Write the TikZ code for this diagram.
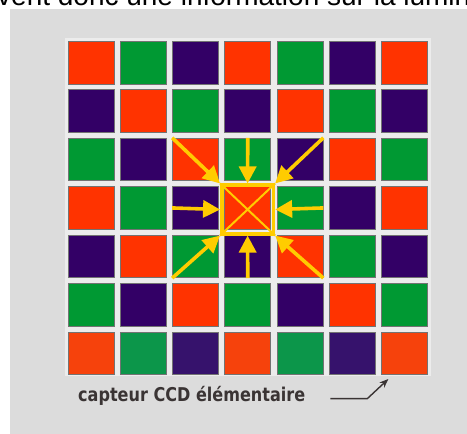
\documentclass[tikz,border=0pt]{standalone}
\usepackage{fontspec}
\usepackage{tikz}
\usetikzlibrary{arrows.meta}
\newfontfamily\HeadFont{Liberation Sans}
\newfontfamily\LabelFont{DejaVu Sans}[FakeStretch=0.845]
\definecolor{panelgray}{HTML}{DCDCDC}
\definecolor{gapgray}{HTML}{ECECEC}
\definecolor{ccdred}{HTML}{FF3300}
\definecolor{ccdgreen}{HTML}{009933}
\definecolor{ccdpurple}{HTML}{330066}
\definecolor{dotred}{HTML}{F6420C}
\definecolor{dotgreen}{HTML}{0C964A}
\definecolor{dotpurple}{HTML}{36126C}
\definecolor{pixelyellow}{HTML}{FFCC00}
\definecolor{labelgray}{HTML}{3A3434}
\newcommand{\CellRow}[8]{%
  \node[cell,fill=#2] (c#1-0) at (91.25,{62.6+48.45*#1}) {};
  \node[cell,fill=#3] (c#1-1) at (143.42,{62.6+48.45*#1}) {};
  \node[cell,fill=#4] (c#1-2) at (195.59,{62.6+48.45*#1}) {};
  \node[cell,fill=#5] (c#1-3) at (247.76,{62.6+48.45*#1}) {};
  \node[cell,fill=#6] (c#1-4) at (299.93,{62.6+48.45*#1}) {};
  \node[cell,fill=#7] (c#1-5) at (352.10,{62.6+48.45*#1}) {};
  \node[cell,fill=#8] (c#1-6) at (404.27,{62.6+48.45*#1}) {};
}

\begin{document}
\begin{tikzpicture}[x=1pt,y=-1pt,
  cell/.style={draw=black!55,line width=.8pt,minimum width=46pt,minimum height=42.6pt,inner sep=0pt},
  feed/.style={draw=pixelyellow,line width=3.6pt,-{Triangle[length=17pt,width=17pt]}},
  target/.style={draw=pixelyellow,line width=3.6pt,minimum width=51.5pt,minimum height=48.5pt,inner sep=0pt},
  pointer/.style={draw=labelgray,line width=1.4pt,-{Stealth[length=9pt,width=7pt]}}]
  \useasboundingbox (0,0) rectangle (467,434);
  \clip (0,0) rectangle (467,434);
  \node[font=\HeadFont\fontsize{28}{33}\selectfont,anchor=base west,inner sep=0pt] (head) at (-3,5.5) {vent donc une information sur la luminosité};
  \fill[panelgray] (10,9) rectangle (467,434);
  \fill[gapgray] (65,38) rectangle (431,376);
  % sensor grid, row by row
  \CellRow{0}{ccdred}{ccdgreen}{ccdpurple}{ccdred}{ccdgreen}{ccdpurple}{ccdred}
  \CellRow{1}{ccdpurple}{ccdred}{ccdgreen}{ccdpurple}{ccdred}{ccdgreen}{ccdpurple}
  \CellRow{2}{ccdgreen}{ccdpurple}{ccdred}{ccdgreen}{ccdpurple}{ccdred}{ccdgreen}
  \CellRow{3}{ccdred}{ccdgreen}{ccdpurple}{ccdred}{ccdgreen}{ccdpurple}{ccdred}
  \CellRow{4}{ccdpurple}{ccdred}{ccdgreen}{ccdpurple}{ccdred}{ccdgreen}{ccdpurple}
  \CellRow{5}{ccdgreen}{ccdpurple}{ccdred}{ccdgreen}{ccdpurple}{ccdred}{ccdgreen}
  \CellRow{6}{dotred}{dotgreen}{dotpurple}{dotred}{dotgreen}{dotpurple}{dotred}
  % neighbours feeding the middle pixel
  \node[target] (ctr) at (247.6,209.5) {};
  \draw[feed] (c2-2.north west) -- (ctr.north west);
  \draw[feed] (c2-3.north) -- (ctr.north);
  \draw[feed] (c2-4.north east) -- (ctr.north east);
  \draw[feed] (c3-2.west) -- (ctr.west);
  \draw[feed] (c3-4.east) -- (ctr.east);
  \draw[feed] (c4-2.south west) -- (ctr.south west);
  \draw[feed] (c4-3.south) -- (ctr.south);
  \draw[feed] (c4-4.south east) -- (ctr.south east);
  \node[target] at (ctr) {};
  \draw[pixelyellow,line width=2pt] (ctr.north west) -- (ctr.south east) (ctr.north east) -- (ctr.south west);
  \node[font=\LabelFont\bfseries\fontsize{19}{23}\selectfont,text=labelgray,anchor=base west,inner sep=0pt] (lbl) at (78,401.7) {capteur CCD élémentaire};
  \coordinate (tip) at ([shift={(7.5,4)}]c6-6.south west);
  \draw[pointer] ([shift={(25,2.5)}]lbl.east) -- ++(37,0) -- (tip);
\end{tikzpicture}
\end{document}
